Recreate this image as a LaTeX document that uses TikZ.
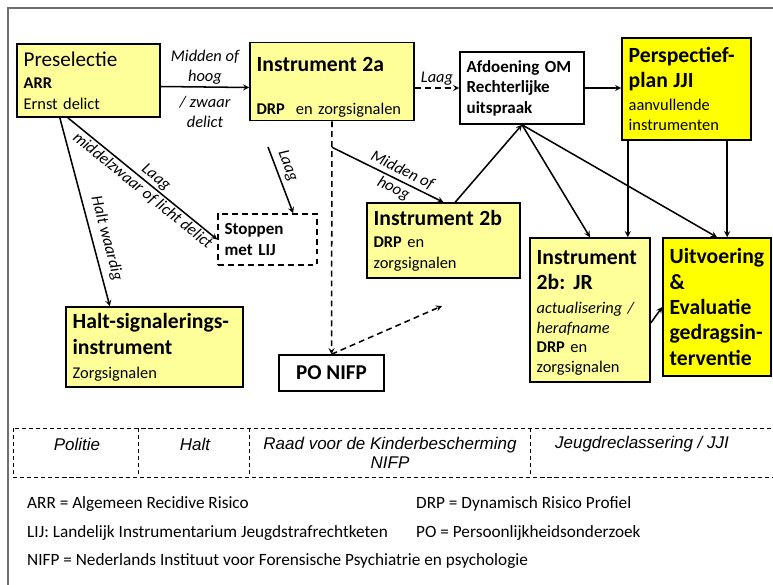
\documentclass[tikz,border=0pt]{standalone}
\usepackage{fontspec}
\setmainfont{Carlito}
\newfontfamily\arialfont{Liberation Sans}
\hyphenpenalty=10000
\exhyphenpenalty=10000
\definecolor{paleyellow}{RGB}{255,255,153}
\definecolor{brightyellow}{RGB}{255,255,0}
\definecolor{framegray}{RGB}{110,110,110}
\newcommand{\boxtitle}[1]{{\fontsize{18.5}{21.3}\selectfont\bfseries #1}}
\newcommand{\boxlead}[1]{{\fontsize{18}{21}\selectfont #1}}

\begin{document}
\begin{tikzpicture}[>=stealth, x=0.03cm, y=-0.03cm,
        every node/.style={inner xsep=0.2cm, inner ysep=0.1cm},
        box/.style={draw, line width=1.3pt, align=left, font=\fontsize{14}{17.5}\selectfont},
        pale/.style={box, fill=paleyellow},
        bright/.style={box, fill=brightyellow},
        plain/.style={box, fill=white},
        edge/.style={line width=1.3pt},
        dashedge/.style={line width=1.3pt, dash pattern=on 5pt off 3.5pt},
        elabel/.style={inner sep=1.5pt, align=center, font=\fontsize{14}{17}\selectfont\itshape},
        cell/.style={line width=0.6pt, dash pattern=on 3.5pt off 2.5pt},
        celltext/.style={inner sep=0pt, align=center, font=\arialfont\fontsize{14.5}{16.5}\selectfont\itshape},
        legend/.style={inner sep=0pt, anchor=west, font=\fontsize{14.7}{17}\selectfont}]
        \useasboundingbox (0, 0) rectangle (773, 585);
        \draw[framegray, line width=1.2pt] (8, 600) -- (8, 8) -- (790, 8);

        % Nodes
        \node[pale, minimum width=4.29cm, minimum height=2.19cm, text width=3.89cm] at (88.5, 80.5) (pre) {\boxlead{Preselectie}\\[2pt] \textbf{ARR}\\ Ernst delict};
        \node[pale, minimum width=4.92cm, minimum height=2.25cm, text width=4.52cm] at (332, 81.5) (i2a) {\rule{0pt}{22pt}\boxtitle{Instrument 2a}\\[19pt] \textbf{DRP}\ \ en zorgsignalen};
        \node[plain, minimum width=3.72cm, minimum height=2.16cm, text width=3.32cm, font=\fontsize{14.5}{17.5}\selectfont\bfseries] at (522, 88) (afd) {Afdoening OM\\ Rechterlijke\\ uitspraak};
        \node[bright, minimum width=3.87cm, minimum height=3.06cm, text width=3.47cm] at (686.5, 89) (pp) {\boxtitle{Perspectief-}\\[3.8pt] \boxtitle{plan JJI}\\[2pt] aanvullende\\ instrumenten};
        \node[pale, minimum width=4.59cm, minimum height=2.25cm, text width=4.19cm] at (443.5, 240.5) (i2b) {\boxtitle{Instrument 2b}\\[2pt] \textbf{DRP} en\\ zorgsignalen};
        \node[pale, minimum width=3.6cm, minimum height=4.32cm, text width=3.2cm, font=\fontsize{14}{16.7}\selectfont] at (590, 310) (jr) {\rule{0pt}{17pt}\boxtitle{Instrument}\\[4.5pt] \boxtitle{2b: JR}\\[3.5pt] \textit{actualisering /}\\ \textit{herafname}\\ \textbf{DRP} en\\ zorgsignalen};
        \node[bright, minimum width=3.24cm, minimum height=4.14cm, text width=2.84cm, font=\fontsize{18.5}{21.7}\selectfont\bfseries] at (717, 307) (uit) {Uitvoering\\ \&\\ Evaluatie\\ gedragsin-\\ terventie};
        \node[plain, dashedge, minimum width=2.97cm, minimum height=1.53cm, text width=2.57cm, font=\fontsize{14.5}{18}\selectfont\bfseries] at (267.5, 239.5) (stop) {Stoppen\\ met LIJ};
        \node[pale, minimum width=5.31cm, minimum height=2.4cm, text width=4.91cm] at (154.5, 347) (halt) {\boxtitle{Halt-signalerings-}\\[4.5pt] \boxtitle{instrument}\\[3pt] Zorgsignalen};
        \node[plain, minimum width=3.15cm, minimum height=1.08cm, align=center, font=\fontsize{18}{21}\selectfont\bfseries] at (331.5, 373) (po) {PO NIFP};

        \coordinate (laagtop) at (268, 147);
        \coordinate (split) at ([yshift=-0.78cm]i2a.south);
        \coordinate (pohead) at (442, 306);
        \coordinate (ppleft) at ([xshift=-1.76cm]pp.south);
        \coordinate (ppright) at ([xshift=1.22cm]pp.south);

        % Edges
        \draw[->, edge] ([yshift=-0.18cm]pre.east) -- ([yshift=-0.18cm]i2a.west)
            node[elabel, above, midway] {Midden of\\hoog}
            node[elabel, below=6pt, midway] {/ zwaar\\delict};

        \draw[->, dashedge] (afd.west -| i2a.east) -- (afd.west) node[elabel, above, midway] {Laag};

        \draw[->, edge] (afd.east) -- (afd.east -| pp.west);

        \draw[->, edge] ([xshift=-0.86cm]pre.south) -- ([xshift=-1.34cm]halt.north)
            node[elabel, sloped, above=4pt, pos=0.66] {Halt waardig};

        \draw[->, edge] ([xshift=-0.62cm]pre.south) -- (stop.west)
            node[elabel, sloped, above, pos=0.55] {Laag}
            node[elabel, sloped, below, pos=0.54] {middelzwaar of licht delict};

        \draw[->, edge] (laagtop) -- ([xshift=0.77cm]stop.north) node[elabel, sloped, above=2pt, pos=0.35] {Laag};

        \draw[->, dashedge] (i2a.south) -- (po.north);

        \draw[->, edge] (split) -- (i2b.north) node[elabel, sloped, pos=0.59] {Midden of\\hoog};

        \draw[->, edge] ([xshift=0.35cm]i2b.north) -- (afd.south);

        \draw[->, edge] (afd.south) -- (jr.north);

        \draw[->, edge] (afd.south) -- (uit.north);

        \draw[->, edge] (ppleft) -- (ppleft |- jr.north);

        \draw[->, edge] (ppright) -- (ppright |- uit.north);

        \draw[->, edge] ([yshift=-0.39cm]jr.east) -- (uit.west);

        \draw[->, dashedge] (po.north) -- (pohead);

        % Organisations
        \draw[cell] (13, 428) rectangle (800, 477);
        \draw[cell] (138, 428) -- (138, 477);
        \draw[cell] (249, 428) -- (249, 477);
        \draw[cell] (530, 428) -- (530, 477);
        \node[celltext] at (77, 444) (politie) {Politie};
        \node[celltext] at (195, 444) (haltorg) {Halt};
        \node[celltext] at (390, 453) (raad) {Raad voor de Kinderbescherming\\NIFP};
        \node[celltext] at (642, 444) (jeugd) {Jeugdreclassering / JJI};

        % Legend
        \node[legend] at (27, 504) (arr) {ARR = Algemeen Recidive Risico};
        \node[legend] at (416, 504) (drp) {DRP = Dynamisch Risico Profiel};
        \node[legend] at (27, 533) (lij) {LIJ: Landelijk Instrumentarium Jeugdstrafrechtketen};
        \node[legend] at (416, 533) (poleg) {PO = Persoonlijkheidsonderzoek};
        \node[legend] at (27, 561) (nifp) {NIFP = Nederlands Instituut voor Forensische Psychiatrie en psychologie};
    \end{tikzpicture}
\end{document}
